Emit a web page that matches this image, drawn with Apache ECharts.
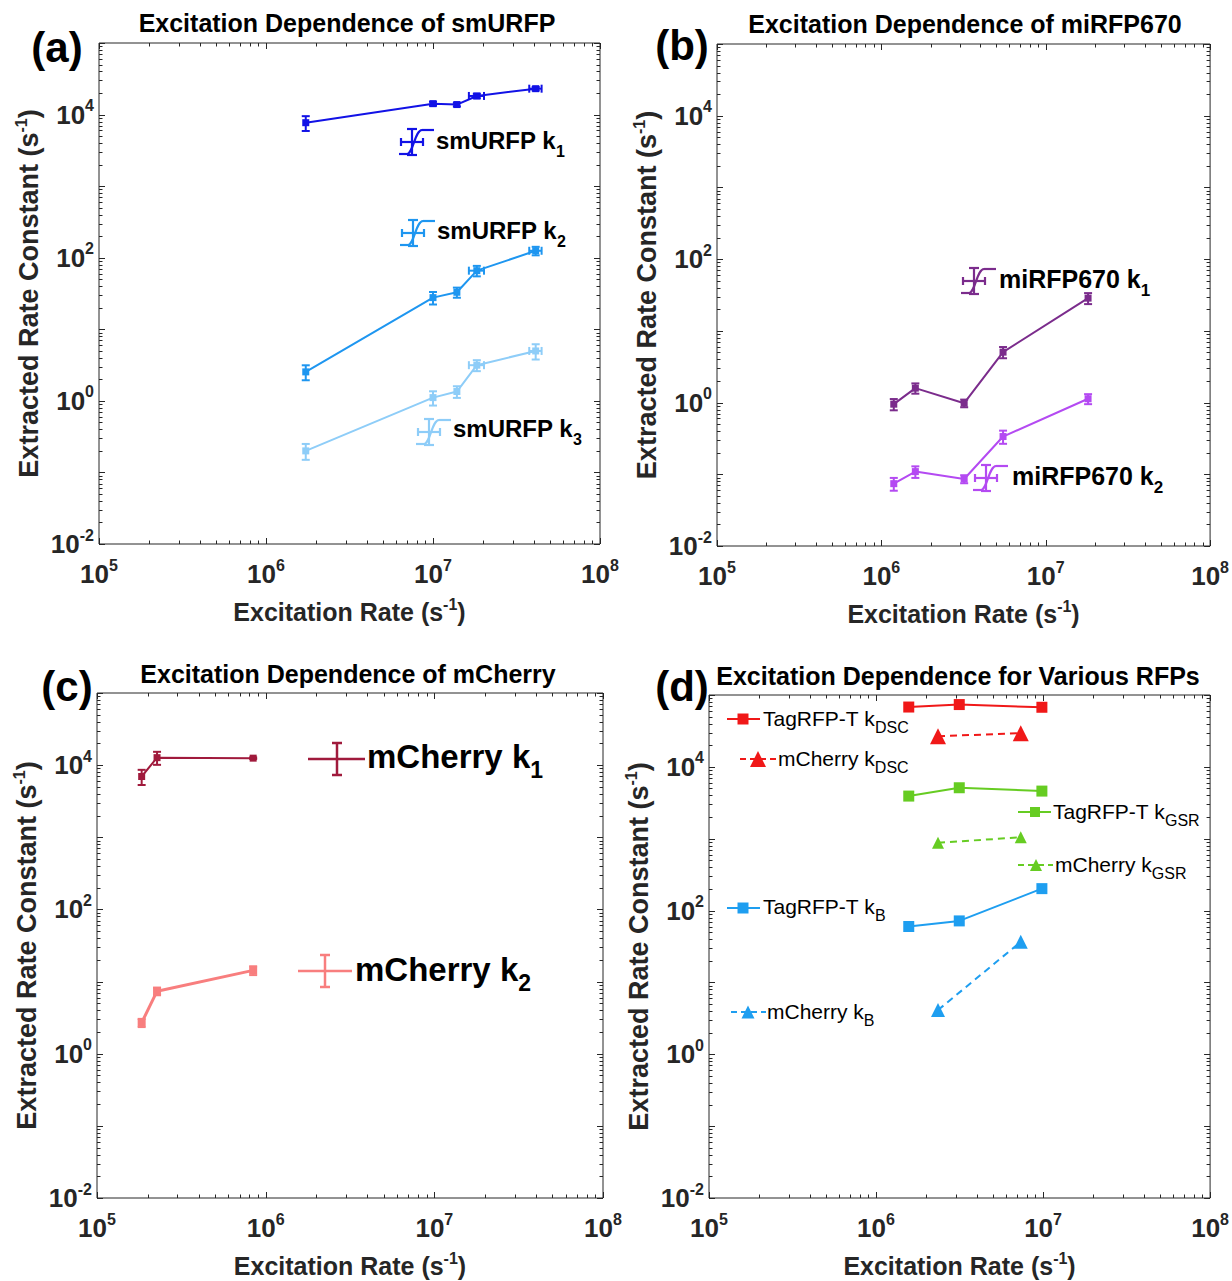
<!DOCTYPE html>
<html>
<head>
<meta charset="utf-8">
<script src="https://cdn.jsdelivr.net/npm/echarts@6/dist/echarts.min.js"></script>
<style>
  html, body { margin: 0; padding: 0; background: #fff; }
  #chart { width: 1232px; height: 1281px; }
</style>
</head>
<body>
<div id="chart"></div>
<script>
// ---------- data ----------
// (a) smURFP
const smurfpRate = [1.73e6, 1.0e7, 1.39e7, 1.83e7, 4.12e7];
const smurfpRateErr = [0, 0, 0, 1.9e6, 3.5e6];
const smurfpK1 = [7700, 14200, 13800, 18200, 23000];
const smurfpK1Err = [1800, 900, 800, 1300, 1300];
const smurfpK2 = [2.54, 27.7, 32.9, 65.9, 125];
const smurfpK2Err = [0.6, 5.5, 5.3, 11, 17];
const smurfpK3 = [0.2, 1.11, 1.35, 3.15, 4.98];
const smurfpK3Err = [0.05, 0.25, 0.25, 0.55, 1.2];

// (b) miRFP670
const mirfpRate = [1.19e6, 1.61e6, 3.19e6, 5.5e6, 1.81e7];
const mirfpK1 = [0.95, 1.59, 0.98, 5.05, 28.6];
const mirfpK1Err = [0.17, 0.26, 0.12, 0.9, 5];
const mirfpK2 = [0.074, 0.109, 0.086, 0.336, 1.13];
const mirfpK2Err = [0.015, 0.02, 0.011, 0.07, 0.18];

// (c) mCherry
const mcherryRate = [1.84e5, 2.27e5, 8.43e5];
const mcherryK1 = [6960, 12700, 12500];
const mcherryK1Err = [1650, 2600, 300];
const mcherryK2 = [2.69, 7.36, 14.3];
const mcherryK2Err = [0.35, 0.9, 2];

// (d) various RFPs
const tagRate = [1.57e6, 3.15e6, 9.84e6];
const tagKdsc = [68000, 73600, 67500];
const tagKgsr = [3920, 5120, 4600];
const tagKb = [60, 71.8, 202];
const mchRate = [2.35e6, 7.35e6];
const mchKdsc = [26700, 29400];
const mchKgsr = [880, 1045];
const mchKb = [4.12, 36.7];

// tick labels (powers of ten)
const xTickExp = [5, 6, 7, 8];
const yTickExp = [-2, 0, 2, 4];
const xDecades = [5, 6, 7, 8];
const yDecades = [-2, -1, 0, 1, 2, 3, 4, 5];

const FONT = 'Liberation Sans';
const AXC = '#262626';

const grids = [
  { left: 99, top: 43, width: 501, height: 501 },
  { left: 717, top: 44, width: 501, height: 502 },
  { left: 97, top: 693, width: 506, height: 505 },
  { left: 709, top: 695, width: 504, height: 503 }
];

function powLabel(exps) {
  return function (v) {
    const e = Math.round(Math.log10(v));
    return exps.indexOf(e) >= 0 ? '10{sup|' + e + '}' : '';
  };
}

const labelRich = {
  sup: { fontSize: 16, fontWeight: 'bold', fontFamily: FONT, color: AXC, padding: [0, 0, 18, 0] }
};
const nameRich = {
  sup: { fontSize: 16, fontWeight: 'bold', fontFamily: FONT, color: AXC, padding: [0, 0, 16, 0] }
};

const xAxes = grids.map((g, i) => ({
  type: 'log', gridIndex: i, min: 1e5, max: 1e8, logBase: 10, splitNumber: 3,
  axisLine: { show: false }, axisTick: { show: false }, splitLine: { show: false },
  axisLabel: {
    formatter: powLabel(xTickExp), margin: 13, color: AXC,
    fontSize: 26, fontWeight: 'bold', fontFamily: FONT, rich: labelRich
  },
  name: 'Excitation Rate (s{sup|-1})', nameLocation: 'middle', nameGap: 52,
  nameTextStyle: { fontSize: 25, fontWeight: 'bold', fontFamily: FONT, color: AXC, rich: nameRich }
}));

const yAxes = grids.map((g, i) => ({
  type: 'log', gridIndex: i, min: 0.01, max: 1e5, logBase: 10, splitNumber: 7,
  axisLine: { show: false }, axisTick: { show: false }, splitLine: { show: false },
  axisLabel: {
    formatter: powLabel(yTickExp), margin: 5, color: AXC,
    fontSize: 26, fontWeight: 'bold', fontFamily: FONT, rich: labelRich
  },
  name: 'Extracted Rate Constant (s{sup|-1})', nameLocation: 'middle', nameGap: 54,
  nameTextStyle: { fontSize: 27, fontWeight: 'bold', fontFamily: FONT, color: AXC, rich: nameRich }
}));

// inside ticks on all four sides, major at decades and minor at 2..9
function tickSeries(gi) {
  const data = [];
  xDecades.forEach(e => {
    for (let m = 1; m <= 9; m++) {
      if (e === 8 && m > 1) break;
      data.push([m * Math.pow(10, e), 1, 0, m === 1 ? 1 : 0]);
    }
  });
  yDecades.forEach(e => {
    for (let m = 1; m <= 9; m++) {
      if (e === 5 && m > 1) break;
      data.push([1e6, m * Math.pow(10, e), 1, m === 1 ? 1 : 0]);
    }
  });
  return {
    type: 'custom', xAxisIndex: gi, yAxisIndex: gi, silent: true, z: 2, data,
    renderItem(params, api) {
      const cs = params.coordSys;
      const isY = api.value(2) === 1;
      const len = api.value(3) === 1 ? 6 : 3.5;
      const st = { stroke: AXC, lineWidth: 1 };
      const p = api.coord([api.value(0), api.value(1)]);
      if (!isY) {
        const bx = Math.round(p[0]) + 0.5;
        return { type: 'group', children: [
          { type: 'line', shape: { x1: bx, y1: cs.y + cs.height, x2: bx, y2: cs.y + cs.height - len }, style: st },
          { type: 'line', shape: { x1: bx, y1: cs.y, x2: bx, y2: cs.y + len }, style: st }
        ] };
      }
      const by = Math.round(p[1]) + 0.5;
      return { type: 'group', children: [
        { type: 'line', shape: { x1: cs.x, y1: by, x2: cs.x + len, y2: by }, style: st },
        { type: 'line', shape: { x1: cs.x + cs.width, y1: by, x2: cs.x + cs.width - len, y2: by }, style: st }
      ] };
    }
  };
}

function lineSeries(gi, xs, ys, color, symbol, size, width, dashed) {
  return {
    type: 'line', xAxisIndex: gi, yAxisIndex: gi, silent: true, z: 4,
    data: xs.map((x, i) => [x, ys[i]]),
    symbol, symbolSize: size, showSymbol: true,
    lineStyle: { color, width, type: dashed ? [7, 5] : 'solid' },
    itemStyle: { color }
  };
}

function errSeries(gi, xs, ys, yErr, xErr, color) {
  return {
    type: 'custom', xAxisIndex: gi, yAxisIndex: gi, silent: true, z: 5,
    data: xs.map((x, i) => [x, ys[i], yErr[i], xErr ? xErr[i] : 0]),
    renderItem(params, api) {
      const x = api.value(0), y = api.value(1), ey = api.value(2), ex = api.value(3);
      const st = { stroke: color, lineWidth: 2 };
      const cap = 4;
      const kids = [];
      if (ey > 0) {
        const a = api.coord([x, y - ey]), b = api.coord([x, y + ey]);
        kids.push({ type: 'line', shape: { x1: a[0], y1: a[1], x2: b[0], y2: b[1] }, style: st });
        kids.push({ type: 'line', shape: { x1: a[0] - cap, y1: a[1], x2: a[0] + cap, y2: a[1] }, style: st });
        kids.push({ type: 'line', shape: { x1: b[0] - cap, y1: b[1], x2: b[0] + cap, y2: b[1] }, style: st });
      }
      if (ex > 0) {
        const a = api.coord([x - ex, y]), b = api.coord([x + ex, y]);
        kids.push({ type: 'line', shape: { x1: a[0], y1: a[1], x2: b[0], y2: b[1] }, style: st });
        kids.push({ type: 'line', shape: { x1: a[0], y1: a[1] - cap, x2: a[0], y2: a[1] + cap }, style: st });
        kids.push({ type: 'line', shape: { x1: b[0], y1: b[1] - cap, x2: b[0], y2: b[1] + cap }, style: st });
      }
      return { type: 'group', children: kids };
    }
  };
}

// colours
const cK1 = '#1212E6', cK2 = '#1E96F0', cK3 = '#8ECDF8';
const cM1 = '#7B2C8C', cM2 = '#B44AF2';
const cC1 = '#A01A3C', cC2 = '#F87E7E';
const cRed = '#F01818', cGreen = '#66CC22', cBlue = '#1E9EF0';

const series = [
  tickSeries(0), tickSeries(1), tickSeries(2), tickSeries(3),
  // (a)
  lineSeries(0, smurfpRate, smurfpK1, cK1, 'rect', 7, 2),
  errSeries(0, smurfpRate, smurfpK1, smurfpK1Err, smurfpRateErr, cK1),
  lineSeries(0, smurfpRate, smurfpK2, cK2, 'rect', 7, 2),
  errSeries(0, smurfpRate, smurfpK2, smurfpK2Err, smurfpRateErr, cK2),
  lineSeries(0, smurfpRate, smurfpK3, cK3, 'rect', 7, 2),
  errSeries(0, smurfpRate, smurfpK3, smurfpK3Err, smurfpRateErr, cK3),
  // (b)
  lineSeries(1, mirfpRate, mirfpK1, cM1, 'rect', 7, 2),
  errSeries(1, mirfpRate, mirfpK1, mirfpK1Err, null, cM1),
  lineSeries(1, mirfpRate, mirfpK2, cM2, 'rect', 7, 2),
  errSeries(1, mirfpRate, mirfpK2, mirfpK2Err, null, cM2),
  // (c)
  lineSeries(2, mcherryRate, mcherryK1, cC1, 'rect', 7, 2),
  errSeries(2, mcherryRate, mcherryK1, mcherryK1Err, null, cC1),
  lineSeries(2, mcherryRate, mcherryK2, cC2, 'rect', 8, 3),
  errSeries(2, mcherryRate, mcherryK2, mcherryK2Err, null, cC2),
  // (d)
  lineSeries(3, tagRate, tagKdsc, cRed, 'rect', 11, 2),
  lineSeries(3, mchRate, mchKdsc, cRed, 'triangle', 16, 2, true),
  lineSeries(3, tagRate, tagKgsr, cGreen, 'rect', 11, 2),
  lineSeries(3, mchRate, mchKgsr, cGreen, 'triangle', 12, 2, true),
  lineSeries(3, tagRate, tagKb, cBlue, 'rect', 11, 2),
  lineSeries(3, mchRate, mchKb, cBlue, 'triangle', 14, 2, true)
];

// ---------- annotations: titles, panel letters, in-plot legends ----------
function txt(x, y, text, size, weight, align) {
  return {
    type: 'text', x, y, silent: true,
    style: { text, fontSize: size, fontWeight: weight, fontFamily: FONT, fill: '#000',
      align: align || 'center', verticalAlign: 'middle' }
  };
}

function subLabel(x, y, main, sub, size, subSize, weight, drop) {
  return {
    type: 'text', x, y, silent: true,
    style: {
      text: '{m|' + main + '}{s|' + sub + '}', align: 'left', verticalAlign: 'middle',
      fill: '#000',
      rich: {
        m: { fontSize: size, fontWeight: weight, fontFamily: FONT, fill: '#000', color: '#000' },
        s: { fontSize: subSize, fontWeight: weight, fontFamily: FONT, fill: '#000', color: '#000',
          padding: [drop * 2, 0, 0, 0] }
      }
    }
  };
}

function errIcon(cx, cy, color) {
  const st = { stroke: color, lineWidth: 2.2, fill: null };
  return { type: 'group', silent: true, children: [
    { type: 'line', shape: { x1: cx - 11, y1: cy, x2: cx + 11, y2: cy }, style: st },
    { type: 'line', shape: { x1: cx - 11, y1: cy - 4, x2: cx - 11, y2: cy + 4 }, style: st },
    { type: 'line', shape: { x1: cx + 11, y1: cy - 4, x2: cx + 11, y2: cy + 4 }, style: st },
    { type: 'line', shape: { x1: cx, y1: cy - 13, x2: cx, y2: cy + 13 }, style: st },
    { type: 'line', shape: { x1: cx - 5, y1: cy - 13, x2: cx + 5, y2: cy - 13 }, style: st },
    { type: 'line', shape: { x1: cx - 5, y1: cy + 13, x2: cx + 5, y2: cy + 13 }, style: st },
    { type: 'line', shape: { x1: cx - 13, y1: cy + 12, x2: cx - 5, y2: cy + 12 }, style: st },
    { type: 'bezierCurve', shape: { x1: cx - 5, y1: cy + 12, cpx1: cx + 1, cpy1: cy + 12,
      cpx2: cx + 3, cpy2: cy - 12, x2: cx + 10, y2: cy - 12 }, style: st },
    { type: 'line', shape: { x1: cx + 10, y1: cy - 12, x2: cx + 22, y2: cy - 12 }, style: st }
  ] };
}

function crossIcon(x1, x2, cx, cy, half, color) {
  const st = { stroke: color, lineWidth: 2.5 };
  return { type: 'group', silent: true, children: [
    { type: 'line', shape: { x1, y1: cy, x2, y2: cy }, style: st },
    { type: 'line', shape: { x1: cx, y1: cy - half, x2: cx, y2: cy + half }, style: st },
    { type: 'line', shape: { x1: cx - 5, y1: cy - half, x2: cx + 5, y2: cy - half }, style: st },
    { type: 'line', shape: { x1: cx - 5, y1: cy + half, x2: cx + 5, y2: cy + half }, style: st }
  ] };
}

function markIcon(x1, x2, cx, cy, color, shape, size, dashed) {
  const kids = [{ type: 'line', shape: { x1, y1: cy, x2, y2: cy },
    style: { stroke: color, lineWidth: 2, lineDash: dashed ? [6, 4] : null } }];
  if (shape === 'rect') {
    kids.push({ type: 'rect', shape: { x: cx - size / 2, y: cy - size / 2, width: size, height: size },
      style: { fill: color } });
  } else {
    kids.push({ type: 'polygon', shape: { points: [[cx, cy - size / 2], [cx + size / 2, cy + size / 2], [cx - size / 2, cy + size / 2]] },
      style: { fill: color } });
  }
  return { type: 'group', silent: true, children: kids };
}

const graphics = [
  txt(347, 23, 'Excitation Dependence of smURFP', 25, 'bold'),
  txt(965, 24, 'Excitation Dependence of miRFP670', 25, 'bold'),
  txt(348, 674, 'Excitation Dependence of mCherry', 25, 'bold'),
  txt(958, 676, 'Excitation Dependence for Various RFPs', 25, 'bold'),
  txt(57, 47, '(a)', 42, 'bold'),
  txt(682, 45, '(b)', 42, 'bold'),
  txt(67, 686, '(c)', 42, 'bold'),
  txt(682, 686, '(d)', 42, 'bold'),
  // (a) legends
  errIcon(412, 142, cK1), subLabel(436, 140, 'smURFP k', '1', 24, 16, 'bold', 11),
  errIcon(413, 233, cK2), subLabel(437, 230, 'smURFP k', '2', 24, 16, 'bold', 11),
  errIcon(429, 432, cK3), subLabel(453, 428, 'smURFP k', '3', 24, 16, 'bold', 11),
  // (b) legends
  errIcon(974, 281, cM1), subLabel(999, 279, 'miRFP670 k', '1', 25, 17, 'bold', 11),
  errIcon(986, 478, cM2), subLabel(1012, 476, 'miRFP670 k', '2', 25, 17, 'bold', 11),
  // (c) legends
  crossIcon(308, 365, 337, 759, 16, cC1), subLabel(367, 756, 'mCherry k', '1', 33, 23, 'bold', 14),
  crossIcon(298, 352, 325, 971, 16, cC2), subLabel(355, 969, 'mCherry k', '2', 33, 23, 'bold', 14),
  // (d) legends
  markIcon(727, 760, 743, 719, cRed, 'rect', 11), subLabel(763, 718, 'TagRFP-T k', 'DSC', 21, 16, 'normal', 9),
  markIcon(740, 777, 758, 759, cRed, 'tri', 16, true), subLabel(778, 758, 'mCherry k', 'DSC', 21, 16, 'normal', 9),
  markIcon(1018, 1051, 1035, 812, cGreen, 'rect', 10), subLabel(1053, 811, 'TagRFP-T k', 'GSR', 21, 16, 'normal', 9),
  markIcon(1018, 1053, 1036, 865, cGreen, 'tri', 12, true), subLabel(1055, 864, 'mCherry k', 'GSR', 21, 16, 'normal', 9),
  markIcon(727, 760, 743, 908, cBlue, 'rect', 11), subLabel(763, 906, 'TagRFP-T k', 'B', 21, 16, 'normal', 9),
  markIcon(731, 766, 748, 1012, cBlue, 'tri', 13, true), subLabel(767, 1011, 'mCherry k', 'B', 21, 16, 'normal', 9)
];

const chart = echarts.init(document.getElementById('chart'), null, { renderer: 'svg' });
chart.setOption({
  animation: false,
  backgroundColor: '#fff',
  grid: grids.map(g => Object.assign({ show: true, borderColor: AXC, borderWidth: 1, backgroundColor: 'transparent' }, g)),
  xAxis: xAxes,
  yAxis: yAxes,
  series,
  graphic: { elements: graphics }
});
</script>
</body>
</html>
